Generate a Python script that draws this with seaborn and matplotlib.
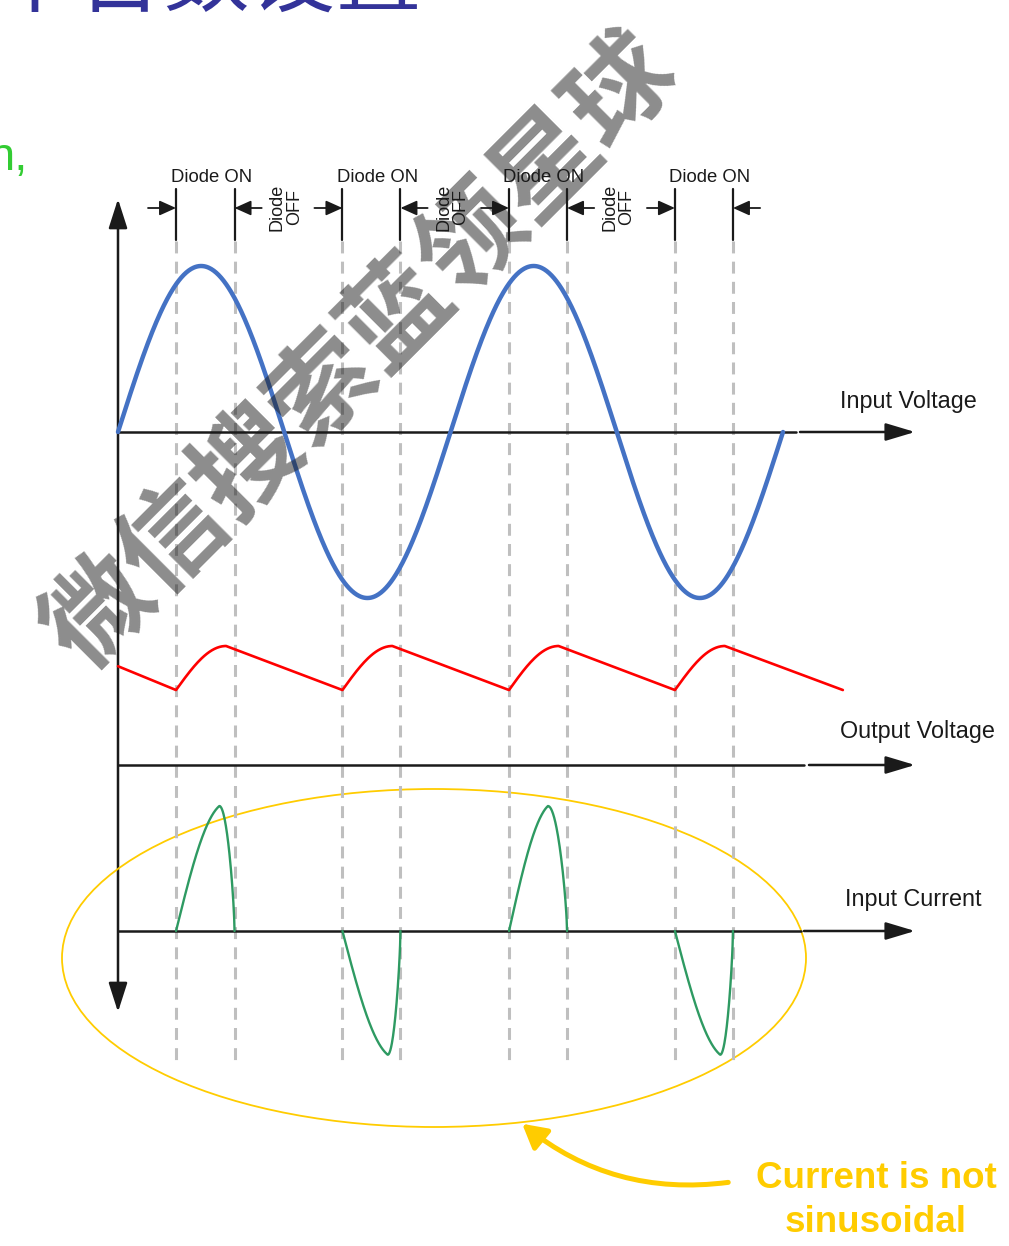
import numpy as np
import pandas as pd
import matplotlib
matplotlib.use("Agg")
import matplotlib.pyplot as plt
import seaborn as sns
from matplotlib.patches import Ellipse, FancyArrowPatch

sns.set_theme(style="white")
plt.rcParams["font.family"] = ["Liberation Sans", "Noto Sans CJK SC", "DejaVu Sans"]

# ---- data (time in ms, 50 Hz mains, amplitudes normalised) ----
period_ms = 20.0
vin_amp = 1.0
vin_end_t = 40.0

on_start = [3.49, 13.50, 23.52, 33.50]   # diode starts conducting
on_end = [7.01, 16.99, 27.01, 36.99]     # diode stops conducting

vout_start = 0.83
vout_valley = [0.63, 0.63, 0.63, 0.63]
vout_peak_t = [6.50, 16.50, 26.50, 36.50]
vout_peak = [1.0, 1.0, 1.0, 1.0]
vout_end_t = 43.6
vout_end = 0.63

cur_sign = [1, -1, 1, -1]
cur_peak = [1.0, 0.99, 1.0, 0.99]
cur_peak_frac = [0.74, 0.78, 0.67, 0.78]

signal_names = ["Input Voltage", "Output Voltage", "Input Current"]

# ---- canvas ----
W, H = 1009, 1246
px_per_ms = 16.625
x0 = 118
t_lo, t_hi = -x0 / px_per_ms, (W - x0) / px_per_ms

fig = plt.figure(figsize=(W / 100, H / 100), dpi=100)
fig.patch.set_facecolor("white")

ax = fig.add_axes([0, 0, 1, 1])        # pixel frame for decorations
ax.set_xlim(0, W)
ax.set_ylim(H, 0)
ax.axis("off")

tax = fig.add_axes([0, 0, 1, 1])       # time in x, pixel rows in y
tax.set_xlim(t_lo, t_hi)
tax.set_ylim(H, 0)
tax.axis("off")
tax.patch.set_alpha(0)


def trace_axes(base_row, px_per_unit):
    a = fig.add_axes([0, 0, 1, 1])
    a.set_xlim(t_lo, t_hi)
    a.set_ylim(-(H - base_row) / px_per_unit, base_row / px_per_unit)
    a.axis("off")
    a.patch.set_alpha(0)
    return a


ax_vin = trace_axes(432, 166)
ax_vout = trace_axes(765, 119)
ax_cur = trace_axes(931, 125)

# dashed guide lines + dimension markers
dash_gray = "#BFBFBF"
for t in on_start + on_end:
    tax.plot([t, t], [241, 1063], color=dash_gray, lw=2.2, ls=(0, (3.9, 2.7)), zorder=1)
    tax.plot([t, t], [189, 240], color="k", lw=1.6, zorder=2)

small = dict(arrowstyle="-|>,head_length=1.0,head_width=0.45", mutation_scale=10,
             lw=1.3, color="k", shrinkA=0, shrinkB=0)
alen = 28 / px_per_ms
for t in on_start:
    tax.annotate("", xy=(t, 208), xytext=(t - alen, 208), arrowprops=small)
for t in on_end:
    tax.annotate("", xy=(t, 208), xytext=(t + alen * 0.97, 208), arrowprops=small)

for s, e in zip(on_start, on_end):
    tax.text((s + e) / 2 + 0.35, 181.5, "Diode ON", fontsize=13.3, ha="center",
             va="baseline", color="k")
for e, s in zip(on_end[:-1], on_start[1:]):
    tax.text((e + s) / 2 - 0.15, 207, "Diode\nOFF", fontsize=13, rotation=90,
             ha="center", va="center", multialignment="center", linespacing=1.0,
             color="k")

# input voltage
t_vin = np.linspace(0, vin_end_t, 800)
v_in = vin_amp * np.sin(2 * np.pi * t_vin / period_ms)
sns.lineplot(x=t_vin, y=v_in, ax=ax_vin, color="#4472C4", lw=3.2, estimator=None,
             sort=False, zorder=3)

# output voltage (ripple)
ts, vs = [0.0, on_start[0]], [vout_start, vout_valley[0]]
for i in range(len(on_start)):
    tr = np.linspace(on_start[i], vout_peak_t[i], 40)
    u = (tr - on_start[i]) / (vout_peak_t[i] - on_start[i])
    vr = vout_valley[i] + (vout_peak[i] - vout_valley[i]) * np.sin(np.pi / 2 * u)
    ts += list(tr)
    vs += list(vr)
    if i + 1 < len(on_start):
        ts.append(on_start[i + 1])
        vs.append(vout_valley[i + 1])
    else:
        ts.append(vout_end_t)
        vs.append(vout_end)
sns.lineplot(x=ts, y=vs, ax=ax_vout, color="#FF0000", lw=1.9, estimator=None,
             sort=False, zorder=3)

# input current pulses (steep rise, rounded top, near-vertical drop)
rows = []
for k, (s, e) in enumerate(zip(on_start, on_end)):
    u = np.linspace(0, 1, 150)
    p = cur_peak_frac[k]
    r = np.clip(u / p, 0, 1)
    rise = 0.3 * r + 0.7 * np.sin(np.pi / 2 * r)
    fall = np.cos(np.pi / 2 * np.clip((u - p) / (1 - p), 0, 1)) ** 0.7
    shape = np.where(u < p, rise, fall)
    for uu, sh in zip(u, shape):
        rows.append({"t": s + uu * (e - s), "i": cur_sign[k] * cur_peak[k] * sh, "pulse": k})
cur_df = pd.DataFrame(rows)
sns.lineplot(data=cur_df, x="t", y="i", units="pulse", estimator=None, sort=False,
             ax=ax_cur, color="#2E9A62", lw=1.7, zorder=3)

# horizontal axes with small breaks
axis_arrow = dict(arrowstyle="-|>,head_length=1.0,head_width=0.3", mutation_scale=18,
                  lw=1.8, color="k", shrinkA=0, shrinkB=0)
tip_t = (915 - x0) / px_per_ms
breaks = [(796, 800), (804, 809), (801, 804)]
for a, (b0, b1) in zip([ax_vin, ax_vout, ax_cur], breaks):
    a.plot([0, (b0 - x0) / px_per_ms], [0, 0], color="k", lw=1.8, zorder=2)
    a.annotate("", xy=(tip_t, 0), xytext=((b1 - x0) / px_per_ms, 0), arrowprops=axis_arrow)

# vertical axis
ax.annotate("", xy=(x0, 199), xytext=(x0, 1012),
            arrowprops=dict(arrowstyle="<|-|>,head_length=1.0,head_width=0.32",
                            mutation_scale=18, lw=1.8, color="k", shrinkA=0, shrinkB=0))

# signal labels
for name, (lx, ly) in zip(signal_names, [(840, 408), (840, 738), (845, 906)]):
    ax.text(lx, ly, name, fontsize=16.8, ha="left", va="baseline", color="k")

# yellow callout
gold = "#FFCC00"
ax.add_patch(Ellipse((434, 958), 744, 338, fill=False, ec=gold, lw=1.3, zorder=4))
ax.add_patch(FancyArrowPatch((731, 1182), (520, 1122), connectionstyle="arc3,rad=-0.22",
                             arrowstyle="-|>,head_length=0.9,head_width=0.5",
                             mutation_scale=16, lw=3.6, color=gold, zorder=4))
ax.text(876, 1178, "Current is not", fontsize=26.5, fontweight="bold", color=gold,
        ha="center", va="center")
ax.text(876, 1222, "sinusoidal", fontsize=26.5, fontweight="bold", color=gold,
        ha="center", va="center")

# cut-off heading fragments
fig.text(-8 / W, 1 - 6 / H, "个台数设置", fontsize=62, color="#333399",
         family=["Noto Sans CJK SC"], ha="left", va="baseline")
fig.text(28 / W, 1 - 170 / H, "n,", fontsize=34, color="#33CC33",
         family=["Liberation Sans", "DejaVu Sans"], ha="right", va="baseline")

# watermark
fig.text(362 / W, 1 - 352 / H, "微信搜索蓝领星球", fontsize=76, color="k", alpha=0.5,
         rotation=45, ha="center", va="center", rotation_mode="anchor",
         family=["Noto Sans CJK SC"], fontweight="bold", zorder=10)

fig.savefig("out.png", dpi=100)
